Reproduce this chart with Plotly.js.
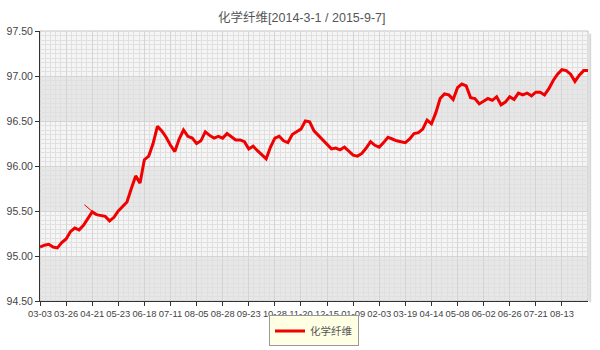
<!DOCTYPE html>
<html>
<head>
<meta charset="utf-8">
<script src="https://cdn.plot.ly/plotly-3.0.1.min.js"></script>
<style>html,body{margin:0;padding:0;background:#fff;}#chart{width:600px;height:350px;}</style>
</head>
<body>
<div id="chart"></div>
<script>
// ---- data ----
const seriesName = '化学纤维';
const chartTitle = '化学纤维[2014-3-1 / 2015-9-7]';
const tickLabels = ['03-03','03-26','04-21','05-23','06-18','07-11','08-05','08-28','09-23','10-28','11-20','12-15','01-09','02-03','03-19','04-14','05-08','06-02','06-26','07-21','08-13'];
const pointsPerLabel = 6;
const values = [
  95.10,95.12,95.13,95.10,95.09,95.15,95.19,95.27,95.31,95.29,
  95.34,95.42,95.49,95.46,95.45,95.44,95.39,95.43,95.50,95.55,
  95.60,95.75,95.89,95.81,96.07,96.11,96.25,96.44,96.39,96.32,
  96.23,96.16,96.30,96.40,96.33,96.31,96.25,96.28,96.38,96.34,
  96.31,96.33,96.31,96.36,96.32,96.29,96.29,96.27,96.19,96.22,
  96.17,96.12,96.08,96.21,96.31,96.33,96.28,96.26,96.35,96.38,
  96.41,96.50,96.49,96.39,96.34,96.30,96.25,96.19,96.20,96.18,
  96.21,96.17,96.12,96.11,96.14,96.20,96.27,96.23,96.21,96.26,
  96.32,96.30,96.28,96.27,96.26,96.30,96.36,96.37,96.41,96.51,
  96.47,96.59,96.75,96.80,96.79,96.74,96.87,96.91,96.89,96.76,
  96.75,96.69,96.72,96.75,96.73,96.77,96.68,96.71,96.77,96.74,
  96.81,96.79,96.81,96.78,96.82,96.82,96.79,96.86,96.95,97.02,
  97.07,97.06,97.02,96.94,97.01,97.06,97.06
];
// small stray stroke visible near 04-21 in the source picture
const strayX = [10.2, 11.9];
const strayY = [95.57, 95.50];
const yTicks = [94.5, 95.0, 95.5, 96.0, 96.5, 97.0, 97.5];

// ---- build ----
const xs = values.map((_, i) => i);
const tickVals = tickLabels.map((_, i) => i * pointsPerLabel);

const bands = [];
for (let i = 0; i < yTicks.length - 1; i++) {
  if (i % 2 === 0) {
    bands.push({type:'rect', xref:'paper', x0:0, x1:1, yref:'y', y0:yTicks[i], y1:yTicks[i+1],
      fillcolor:'#e7e7e7', line:{width:0}, layer:'below'});
  }
}
bands.push({type:'rect', xref:'paper', x0:0, x1:1, yref:'paper', y0:0, y1:1,
  fillcolor:'rgba(0,0,0,0)', line:{color:'#c4c4c4', width:1}, layer:'below'});
// soft shadow along the right edge of the plot frame
bands.push({type:'line', xref:'paper', x0:1.004, x1:1.004, yref:'paper', y0:-0.005, y1:0.99,
  line:{color:'#d8d8d8', width:2}, layer:'above'});

const fontFam = '"Liberation Sans", Arial, "Noto Sans CJK SC", sans-serif';

const traces = [
  {x: xs, y: values, type:'scatter', mode:'lines', name: seriesName,
   line:{color:'#f00000', width:3}},
  {x: strayX, y: strayY, type:'scatter', mode:'lines', showlegend:false, hoverinfo:'skip',
   line:{color:'#f00000', width:1}}
];

const layout = {
  width:600, height:350,
  margin:{l:40, r:12, t:31, b:49, autoexpand:false},
  paper_bgcolor:'#ffffff',
  plot_bgcolor:'#f5f5f5',
  font:{family:fontFam, size:10, color:'#444'},
  title:{text: chartTitle, font:{family:fontFam, size:12.5, color:'#555'},
    x:0.503, xanchor:'center', xref:'container', y:0.95, yanchor:'middle', yref:'container'},
  shapes: bands,
  xaxis:{
    range:[0, 126], tickmode:'array', tickvals: tickVals, ticktext: tickLabels, tickangle:0,
    automargin:false,
    showline:true, linecolor:'#333', linewidth:1, ticks:'outside', ticklen:4, tickcolor:'#333',
    showgrid:true, gridcolor:'#d4d4d4', gridwidth:1, zeroline:false,
    tickfont:{size:9.4, color:'#444'},
    minor:{tickmode:'linear', tick0:0, dtick:1.2, showgrid:true, gridcolor:'#e0e0e0', gridwidth:1, ticks:''}
  },
  yaxis:{
    range:[94.5, 97.5], tickmode:'array', tickvals: yTicks, tickformat:'.2f',
    automargin:false,
    showline:true, linecolor:'#333', linewidth:1, ticks:'outside', ticklen:4, tickcolor:'#333',
    showgrid:true, gridcolor:'#d4d4d4', gridwidth:1, zeroline:false,
    tickfont:{size:10.5, color:'#444'},
    minor:{tickmode:'linear', tick0:94.5, dtick:0.05, showgrid:true, gridcolor:'#e0e0e0', gridwidth:1, ticks:''}
  },
  showlegend:true,
  legend:{x:0.5, xanchor:'center', y:-0.111, yanchor:'middle', orientation:'h',
    bgcolor:'#ffffe3', bordercolor:'#999', borderwidth:1,
    font:{family:fontFam, size:10.5, color:'#555'}, itemwidth:30}
};

Plotly.newPlot('chart', traces, layout, {displayModeBar:false, staticPlot:true});
</script>
</body>
</html>
